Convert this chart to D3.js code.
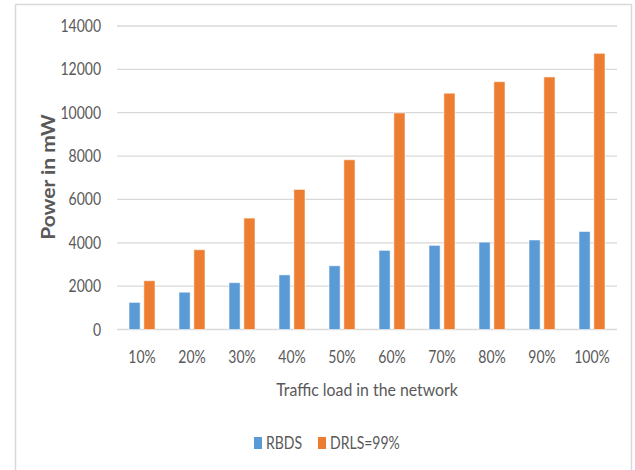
<!DOCTYPE html>
<html>
<head>
<meta charset="utf-8">
<script src="https://cdn.jsdelivr.net/npm/d3@7"></script>
<style>
  html, body { margin: 0; padding: 0; background: #fff; }
  svg { display: block; }
  text { font-family: Lato, "Open Sans", sans-serif; fill: #595959; }
</style>
</head>
<body>
<svg id="chart" width="635" height="470"></svg>
<script>
// Traffic load levels on the x axis
const categories = ["10%", "20%", "30%", "40%", "50%", "60%", "70%", "80%", "90%", "100%"];
// Power consumption (mW) per scheme
const rbds = [1250, 1720, 2160, 2520, 2940, 3650, 3880, 4030, 4130, 4520];
const drls = [2250, 3680, 5140, 6460, 7830, 9990, 10900, 11430, 11650, 12740];
const seriesNames = ["RBDS", "DRLS=99%"];
const seriesColors = ["#5B9BD5", "#ED7D31"];
const yTicks = [0, 2000, 4000, 6000, 8000, 10000, 12000, 14000];

const svg = d3.select("#chart");
const sx = 0.8; // narrow glyph width used throughout the labels

// outer frame
svg.append("rect")
  .attr("x", 15.5).attr("y", 4.5)
  .attr("width", 616).attr("height", 480)
  .attr("fill", "none").attr("stroke", "#d9d9d9").attr("stroke-width", 1.5);

const plot = { left: 117, right: 617, top: 26, bottom: 329.5 };

const x = d3.scaleBand()
  .domain(categories)
  .range([plot.left, plot.right])
  .paddingInner(0.48).paddingOuter(0.24);

const xs = d3.scaleBand()
  .domain([0, 1])
  .range([0, x.bandwidth()])
  .paddingInner(0.25);

const y = d3.scaleLinear()
  .domain([0, 14000])
  .range([plot.bottom, plot.top]);

// horizontal gridlines
svg.append("g")
  .selectAll("line")
  .data(yTicks)
  .join("line")
  .attr("x1", plot.left).attr("x2", plot.right)
  .attr("y1", d => y(d)).attr("y2", d => y(d))
  .attr("stroke", "#d9d9d9").attr("stroke-width", 1.3);

// y tick labels
svg.append("g")
  .selectAll("text")
  .data(yTicks)
  .join("text")
  .attr("transform", d => `translate(101,${y(d) + 6}) scale(${sx},1)`)
  .attr("text-anchor", "end")
  .attr("font-size", 17.5)
  .text(d => d);

// bars
const series = [rbds, drls];
const groups = svg.append("g")
  .selectAll("g")
  .data(series)
  .join("g")
  .attr("fill", (d, i) => seriesColors[i]);

groups.each(function (vals, si) {
  d3.select(this).selectAll("rect")
    .data(vals)
    .join("rect")
    .attr("x", (d, i) => x(categories[i]) + xs(si))
    .attr("y", d => y(d))
    .attr("width", xs.bandwidth())
    .attr("height", d => y(0) - y(d))
    .attr("stroke", "#ffffff").attr("stroke-opacity", 0.55).attr("stroke-width", 1);
});

// x tick labels
svg.append("g")
  .selectAll("text")
  .data(categories)
  .join("text")
  .attr("transform", d => `translate(${x(d) + x.bandwidth() / 2},363) scale(${sx},1)`)
  .attr("text-anchor", "middle")
  .attr("font-size", 17.5)
  .text(d => d);

// axis titles
svg.append("text")
  .attr("transform", `translate(367,396) scale(0.88,1)`)
  .attr("text-anchor", "middle")
  .attr("font-size", 18)
  .text("Traffic load in the network");

svg.append("text")
  .attr("transform", `translate(55,177) scale(0.9,1) rotate(-90)`)
  .attr("text-anchor", "middle")
  .attr("font-size", 21)
  .attr("font-weight", "bold")
  .text("Power in mW");

// legend
const legend = svg.append("g");
const legendX = [254, 318];
seriesNames.forEach((name, i) => {
  legend.append("rect")
    .attr("x", legendX[i]).attr("y", 437)
    .attr("width", 8).attr("height", 12)
    .attr("fill", seriesColors[i]);
  legend.append("text")
    .attr("transform", `translate(${legendX[i] + 12},449) scale(0.85,1)`)
    .attr("font-size", 16.5)
    .text(name);
});
</script>
</body>
</html>
